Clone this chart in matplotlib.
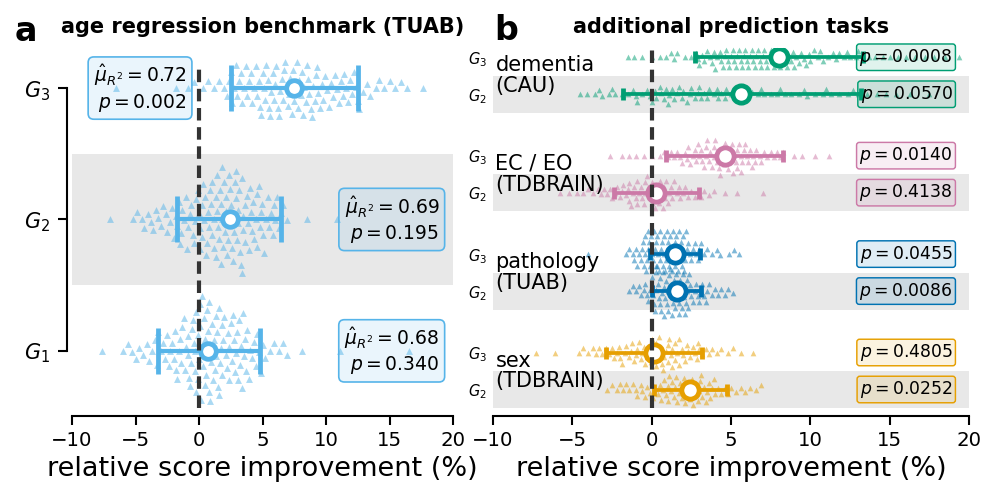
import numpy as np
import matplotlib
matplotlib.use('Agg')
import matplotlib.pyplot as plt
from matplotlib.colors import to_rgba

# ---- data: panel a (age regression, TUAB) ----
g1_vals = [-7.6, -6.0, -5.6, -5.3, -5.0, -4.7, -4.4, -4.1, -3.9,
           -3.7, -3.5, -3.3, -3.2, -3.0, -2.8, -2.7, -2.5, -2.4, -2.3, -2.1, -2.0,
           -1.9, -1.8, -1.7, -1.6, -1.5, -1.4, -1.3, -1.2, -1.1, -1.0, -0.9, -0.85, -0.8,
           -0.7, -0.6, -0.55, -0.5,
           -0.4, -0.35, -0.3, -0.25, -0.2, -0.1, -0.05, 0.0, 0.05, 0.1, 0.15, 0.2, 0.3,
           0.35, 0.4, 0.45, 0.5, 0.55, 0.6, 0.65, 0.7, 0.75, 0.8, 0.9, 0.95, 1.0, 1.05,
           1.1, 1.2, 1.25, 1.3, 1.35, 1.4, 1.5, 1.55, 1.6, 1.65, 1.7, 1.8, 1.85, 1.9, 2.0,
           2.1, 2.2, 2.25, 2.35, 2.4, 2.5, 2.6, 2.65, 2.75, 2.8, 2.9, 3.0, 3.05, 3.15,
           3.2, 3.3, 3.4, 3.45, 3.55, 3.6, 3.7, 3.8,
           3.9, 4.05, 4.2, 4.3, 4.45, 4.6, 4.7, 4.85, 5.0, 5.2,
           5.6, 5.9, 6.3, 6.6, 6.9, 8.1, 11.1, 16.5]
g2_vals = [-7.0, -5.2, -4.9, -4.5, -4.3, -4.0, -3.8, -3.6,
           -3.4, -3.2, -3.0, -2.8, -2.6, -2.5, -2.3, -2.1, -2.0, -1.8, -1.7, -1.6, -1.5,
           -1.4, -1.3, -1.2, -1.05, -0.95, -0.85, -0.7, -0.6, -0.5, -0.4, -0.3, -0.2,
           -0.1, 0.0, 0.05,
           0.1, 0.2, 0.25, 0.35, 0.4, 0.5, 0.55, 0.65, 0.7, 0.8, 0.85, 0.95, 1.0, 1.05,
           1.15, 1.2, 1.3, 1.35, 1.4, 1.45, 1.5,
           1.6, 1.65, 1.7, 1.75, 1.8, 1.85, 1.9, 2.0, 2.05, 2.1, 2.15, 2.2, 2.3, 2.35,
           2.4, 2.45, 2.5, 2.6, 2.65, 2.7, 2.75, 2.8, 2.9, 2.95, 3.0, 3.05, 3.1, 3.15,
           3.2, 3.3, 3.35, 3.4, 3.45, 3.5,
           3.6, 3.65, 3.75, 3.85, 3.9, 4.0, 4.1, 4.2, 4.25, 4.35, 4.45, 4.55, 4.6, 4.7,
           4.8, 4.85, 4.95, 5.0,
           5.1, 5.25, 5.4, 5.5, 5.65, 5.8, 5.9, 6.0, 6.15, 6.3, 6.45, 6.6,
           6.9, 8.5, 10.9]
g3_vals = [-6.5, -1.8, -0.9, -0.4, 0.3, 0.7, 1.2, 1.6, 2.0,
           2.2, 2.35, 2.5, 2.6, 2.75, 2.9, 3.0, 3.15, 3.3, 3.4, 3.55, 3.7, 3.8, 3.95,
           4.1, 4.2, 4.35, 4.5,
           4.6, 4.7, 4.8, 4.9, 5.0, 5.1, 5.2, 5.3, 5.4, 5.5, 5.6, 5.7, 5.8, 5.9, 6.0,
           6.1, 6.2, 6.3, 6.4, 6.5, 6.6, 6.7, 6.8, 6.9, 7.0, 7.1, 7.2, 7.3, 7.4, 7.5,
           7.6, 7.7, 7.8, 7.9, 8.0, 8.1, 8.2, 8.3, 8.4, 8.5, 8.6, 8.7, 8.8, 8.9, 9.0,
           9.1, 9.2, 9.3, 9.4, 9.5,
           9.65, 9.8, 9.95, 10.1, 10.25, 10.4, 10.55, 10.7, 10.85, 11.0, 11.15, 11.3,
           11.45, 11.6, 11.75, 11.9, 12.05, 12.2, 12.35, 12.5, 12.6,
           12.9, 13.2, 13.5, 13.9, 14.2, 14.6, 15.0, 15.4, 15.9, 16.4, 17.6]

left_labels = ['$G_1$', '$G_2$', '$G_3$']
left_points = [g1_vals, g2_vals, g3_vals]
left_mean = [0.7, 2.45, 7.45]
left_lo = [-3.2, -1.7, 2.5]
left_hi = [4.8, 6.45, 12.5]
left_mu = ['0.68', '0.69', '0.72']
left_p = ['0.340', '0.195', '0.002']

# ---- data: panel b (additional tasks) ----
dem_g3 = [-1.5, -1.1, -0.6, 0.0, 0.5, 0.9, 1.2, 1.4, 1.6, 2.1, 2.5, 2.8, 2.9, 3.0, 3.2,
          3.3, 3.5, 3.7, 3.8, 3.9, 4.0, 4.1, 4.3, 4.4, 4.5, 4.6, 4.7, 4.8, 4.9, 5.0,
          5.1, 5.2, 5.3, 5.4, 5.5, 5.6, 5.7, 5.8, 5.9, 6.0, 6.1, 6.2, 6.3, 6.4, 6.5,
          6.6, 6.7, 6.8, 6.9, 7.0, 7.1, 7.2, 7.3, 7.4, 7.5, 7.6, 7.7, 7.8, 7.9, 8.0,
          8.1, 8.2, 8.3, 8.4, 8.5, 8.6, 8.8, 8.9, 9.0, 9.1, 9.3, 9.4, 9.6, 9.7, 9.9,
          10.0, 10.2, 10.5, 10.6, 10.8, 11.1, 11.4, 11.6, 11.8, 12.1, 12.3, 12.5,
          12.9, 13.0, 13.3, 13.7, 14.1, 14.6, 15.0, 15.5, 16.0, 16.6, 17.2, 17.8,
          18.5, 19.4]
dem_g2 = [-4.5, -4.1, -3.6, -3.3, -3.1, -2.7, -2.5, -2.3, -1.9, -1.5, -1.2, -1.0, -0.9,
          -0.6, -0.3, -0.1, 0.0, 0.2, 0.3, 0.5, 0.6, 0.8, 0.9, 1.0, 1.1, 1.3, 1.4,
          1.6, 1.7, 1.9, 2.0, 2.2, 2.4, 2.5, 2.7, 2.9, 3.0, 3.1, 3.3, 3.5, 3.6, 3.9,
          4.1, 4.2, 4.4, 4.6, 4.7, 5.0, 5.2, 5.3, 5.6, 5.9, 6.0, 6.3, 6.7, 6.9, 7.1,
          7.5, 7.9, 8.1, 8.4, 8.8, 9.3, 9.6, 9.8, 10.3, 10.8, 11.0, 11.3, 11.8, 12.4,
          12.7, 13.0, 13.6, 14.2, 14.8, 15.4, 16.3, 17.5]
ec_g3 = [-2.6, -1.9, -1.4, -1.0, -0.5, 0.0, 0.5, 0.8, 1.0, 1.2, 1.4, 1.6, 1.8, 1.9,
         2.1, 2.2, 2.3, 2.4, 2.6, 2.7, 2.8, 2.9, 3.0, 3.1, 3.2, 3.3, 3.4, 3.45, 3.5,
         3.6, 3.7, 3.8, 3.9, 3.95, 4.0, 4.1, 4.2, 4.25, 4.3, 4.4, 4.5, 4.55, 4.6, 4.7,
         4.8, 4.9, 5.0, 5.05, 5.1, 5.2, 5.3, 5.35, 5.4, 5.5, 5.6, 5.65, 5.7, 5.8,
         5.9, 6.0, 6.1, 6.2, 6.3, 6.4, 6.5, 6.6, 6.8, 6.9, 7.1, 7.3, 7.5, 7.7, 7.9,
         8.1, 8.3, 9.0, 9.5, 10.3, 11.2]
ec_g2 = [-5.8, -5.2, -4.7, -4.3, -4.0, -3.7, -3.4, -3.2, -3.0, -2.8, -2.6, -2.5, -2.3,
         -2.2, -2.0, -1.9, -1.8, -1.6, -1.5, -1.45, -1.4, -1.3, -1.2, -1.1, -1.0,
         -0.95, -0.9, -0.8, -0.7, -0.6, -0.5, -0.45, -0.4, -0.3, -0.2, -0.1, 0.0,
         0.05, 0.1, 0.2, 0.3, 0.4, 0.45, 0.5, 0.6, 0.7, 0.8, 0.85, 0.9, 1.0, 1.1,
         1.2, 1.3, 1.4, 1.6, 1.7, 1.8, 2.0, 2.1, 2.3, 2.5, 2.7, 2.9, 3.1, 3.3, 3.6,
         3.9, 4.6, 5.4, 7.0]
path_g3 = [-4.0, -1.6, -1.4, -1.2, -1.1, -1.0, -0.9, -0.8, -0.7, -0.6, -0.55, -0.5,
           -0.45, -0.4, -0.35, -0.3, -0.25, -0.2, -0.15, -0.1, -0.05, 0.0, 0.05, 0.1,
           0.15, 0.2, 0.25, 0.3, 0.35, 0.4, 0.45, 0.5, 0.55, 0.6, 0.65, 0.7, 0.75,
           0.8, 0.85, 0.9, 0.95, 1.0, 1.05, 1.1, 1.15, 1.2, 1.25, 1.3, 1.35, 1.4,
           1.45, 1.5, 1.55, 1.6, 1.65, 1.7, 1.75, 1.8, 1.85, 1.9, 1.95, 2.0, 2.05,
           2.1, 2.15, 2.2, 2.3, 2.4, 2.5, 2.6, 2.7, 2.8, 2.9, 3.0, 3.1, 3.3, 3.5,
           3.8, 4.1, 4.3, 4.9, 5.2, 5.5]
path_g2 = [-1.4, -1.2, -1.0, -0.8, -0.7, -0.5, -0.4, -0.3, -0.2, -0.1, 0.0, 0.05,
           0.1, 0.15, 0.2, 0.25, 0.3, 0.35, 0.4, 0.45, 0.5, 0.55, 0.6, 0.65, 0.7,
           0.75, 0.8, 0.85, 0.9, 0.95, 1.0, 1.05, 1.1, 1.15, 1.2, 1.25, 1.3, 1.35,
           1.4, 1.45, 1.5, 1.55, 1.6, 1.65, 1.7, 1.75, 1.8, 1.85, 1.9, 1.95, 2.0,
           2.05, 2.1, 2.15, 2.2, 2.25, 2.3, 2.35, 2.4, 2.5, 2.6, 2.7, 2.8, 2.9, 3.0,
           3.1, 3.2, 3.3, 3.4, 3.5, 3.6, 3.8, 4.0, 4.2, 4.4, 4.6, 4.8, 5.1]
sex_g3 = [-7.3, -6.1, -4.6, -4.3, -4.0, -3.7, -3.5, -3.3, -3.1, -2.9, -2.7, -2.5,
          -2.4, -2.2, -2.05, -2.0, -1.9, -1.7, -1.6, -1.4, -1.3, -1.25, -1.1, -1.0,
          -0.9, -0.8, -0.7, -0.6, -0.5, -0.45, -0.3, -0.2, -0.1, -0.05, 0.0, 0.1, 0.2,
          0.25, 0.3, 0.4, 0.45, 0.5, 0.6, 0.65, 0.7, 0.8, 0.9, 1.0, 1.05, 1.1, 1.2,
          1.25, 1.3, 1.45, 1.5, 1.6, 1.7, 1.75, 1.9, 2.0, 2.1, 2.2, 2.3, 2.4, 2.6,
          2.7, 2.85, 2.9, 3.0, 3.2, 3.4, 3.6, 3.8, 4.1, 4.4, 4.8, 5.1, 5.6, 6.4]
sex_g2 = [-2.8, -2.5, -2.2, -2.0, -1.8, -1.6, -1.4, -1.2, -1.0, -0.9, -0.7, -0.6,
          -0.4, -0.3, -0.1, 0.0, 0.1, 0.2, 0.4, 0.5, 0.6, 0.7, 0.8, 0.9, 1.0, 1.05,
          1.1, 1.2, 1.3, 1.4, 1.5, 1.55, 1.6, 1.7, 1.8, 1.9, 2.0, 2.05, 2.1, 2.2,
          2.3, 2.4, 2.5, 2.55, 2.6, 2.7, 2.8, 2.9, 3.0, 3.05, 3.1, 3.2, 3.3, 3.4,
          3.5, 3.6, 3.7, 3.8, 3.9, 4.0, 4.2, 4.4, 4.6, 4.8, 5.0, 5.3, 5.6, 5.9,
          6.2, 6.6, 6.9]

tasks = ['dementia\n(CAU)', 'EC / EO\n(TDBRAIN)', 'pathology\n(TUAB)', 'sex\n(TDBRAIN)']
task_colors = ['#009E73', '#CC79A7', '#0072B2', '#E69F00']
pts_g3 = [dem_g3, ec_g3, path_g3, sex_g3]
pts_g2 = [dem_g2, ec_g2, path_g2, sex_g2]
mean_g3 = [8.0, 4.65, 1.45, 0.12]
lo_g3 = [2.7, 0.9, -0.1, -2.9]
hi_g3 = [13.3, 8.25, 3.05, 3.2]
mean_g2 = [5.65, 0.28, 1.6, 2.4]
lo_g2 = [-1.8, -2.35, 0.05, 0.12]
hi_g2 = [13.2, 3.0, 3.1, 4.75]
p_g3 = ['0.0008', '0.0140', '0.0455', '0.4805']
p_g2 = ['0.0570', '0.4138', '0.0086', '0.0252']

sky = '#56B4E9'
band = '#e8e8e8'

W, H, DPI = 997, 503, 150
fig = plt.figure(figsize=(W / DPI, H / DPI), dpi=DPI)


def px_axes(x0, x1, ytop, ybot):
    return fig.add_axes([x0 / W, 1 - ybot / H, (x1 - x0) / W, (ybot - ytop) / H])


def swarm(xs, sx, d):
    # simple beeswarm: offsets in pixels, xs converted with sx (px per unit)
    xp = np.asarray(xs, float) * sx
    out = np.zeros(len(xp))
    placed = []
    for i in np.argsort(xp):
        x = xp[i]
        near = [(a, b) for a, b in placed if abs(a - x) < d]
        cands = [0.0]
        for a, b in near:
            dy = np.sqrt(d * d - (a - x) ** 2)
            cands += [b + dy, b - dy]
        cands.sort(key=abs)
        for c in cands:
            if all((a - x) ** 2 + (b - c) ** 2 >= d * d - 1e-6 for a, b in near):
                out[i] = c
                break
        placed.append((x, out[i]))
    return out


def style_x(ax):
    ax.set_xlim(-10, 20)
    ax.set_xticks(np.arange(-10, 21, 5))
    for s in ['top', 'right']:
        ax.spines[s].set_visible(False)
    ax.spines['bottom'].set_position(('outward', 3.8))
    ax.spines['bottom'].set_linewidth(1.0)
    ax.tick_params(axis='x', length=4.3, width=1.0, labelsize=9.5, pad=3)
    ax.set_xlabel('relative score improvement (%)', fontsize=13, labelpad=3)


# ---------------- panel a ----------------
axL = px_axes(72, 453, 48, 408)
axL.set_ylim(-0.435, 2.305)
style_x(axL)
sxL = 381 / 30
syL = 360 / (2.305 + 0.435)
axL.axhspan(0.5, 1.5, color=band, zorder=0, lw=0)
for i, vals in enumerate(left_points):
    off = swarm(vals, sxL, 8.6) / syL
    axL.scatter(vals, i + off, marker='^', s=11, color=sky, alpha=0.5, lw=0,
                zorder=2, clip_on=False)
    axL.errorbar(left_mean[i], i,
                 xerr=[[left_mean[i] - left_lo[i]], [left_hi[i] - left_mean[i]]],
                 fmt='o', color=sky, mfc='white', mec=sky, ms=7.5, mew=2.3,
                 elinewidth=2, capsize=11, capthick=2, zorder=4)
    txt = r'$\hat{\mu}_{R^2} = %s$' % left_mu[i] + '\n' + r'$p = %s$' % left_p[i]
    xt = -1.0 if i == 2 else 18.9
    axL.text(xt, i, txt, ha='right', va='center', multialignment='right', fontsize=9,
             zorder=6, bbox=dict(boxstyle='round,pad=0.3', fc=to_rgba(sky, 0.12),
                                 ec=sky, lw=0.8))
axL.axvline(0, ymax=0.955, color='#333333', lw=2, ls=(0, (3, 1.6)), zorder=5)
axL.set_yticks([0, 1, 2])
axL.set_yticklabels(left_labels, fontsize=10.5)
axL.spines['left'].set_position(('outward', 2.2))
axL.spines['left'].set_bounds(0, 2)
axL.spines['left'].set_linewidth(1.0)
axL.tick_params(axis='y', length=4.5, width=1.0, pad=4)
axL.set_title('age regression benchmark (TUAB)', fontsize=10, fontweight='bold', pad=7)

# ---------------- panel b ----------------
axR = px_axes(493, 969, 48, 408)
axR.set_ylim(-0.5, 9.23)
style_x(axR)
sxR = 476 / 30
syR = 360 / 9.73
axR.spines['left'].set_visible(False)
gap = 2.66
yt, yl = [], []
for k in range(4):
    base = (3 - k) * gap
    c = task_colors[k]
    axR.axhspan(base - 0.5, base + 0.5, color=band, zorder=0, lw=0)
    for y, vals, m, lo, hi, p in [(base + 1, pts_g3[k], mean_g3[k], lo_g3[k], hi_g3[k], p_g3[k]),
                                  (base, pts_g2[k], mean_g2[k], lo_g2[k], hi_g2[k], p_g2[k])]:
        off = swarm(vals, sxR, 6.3) / syR
        axR.scatter(vals, y + off, marker='^', s=7.5, color=c, alpha=0.5, lw=0,
                    zorder=2, clip_on=False)
        axR.errorbar(m, y, xerr=[[m - lo], [hi - m]], fmt='o', color=c, mfc='white',
                     mec=c, ms=8.3, mew=2.3, elinewidth=1.8, capsize=3.1, capthick=1.8,
                     zorder=4)
        axR.text(18.97, y, r'$p = %s$' % p, ha='right', va='center', fontsize=8.3, zorder=6,
                 bbox=dict(boxstyle='round,pad=0.16', fc=to_rgba(c, 0.12), ec=c, lw=0.7))
    axR.text(-9.85, base + 0.5, tasks[k], ha='left', va='center', fontsize=10,
             linespacing=1.05, zorder=3)
    yt += [base, base + 1]
    yl += ['$G_2$', '$G_3$']
axR.axvline(0, color='#333333', lw=2, ls=(0, (3, 1.6)), zorder=5)
axR.set_yticks(yt)
axR.set_yticklabels(yl, fontsize=7)
axR.tick_params(axis='y', length=0, pad=3)
axR.set_title('additional prediction tasks', fontsize=10, fontweight='bold', pad=7)

fig.text(15 / W, 1 - 41 / H, 'a', fontsize=16, fontweight='bold', va='baseline')
fig.text(494 / W, 1 - 40 / H, 'b', fontsize=16, fontweight='bold', va='baseline')

fig.savefig('out.png', dpi=DPI)
